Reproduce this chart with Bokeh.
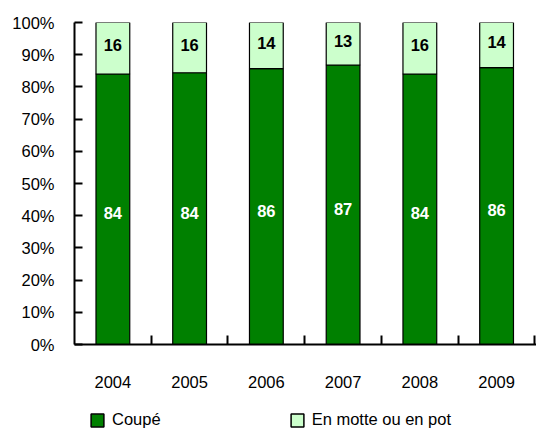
from bokeh.plotting import figure
from bokeh.models import FixedTicker, Legend, LegendItem, ColumnDataSource
from bokeh.layouts import column
from bokeh.core.properties import value
from bokeh.embed import file_html
from bokeh.resources import INLINE

years = ["2004", "2005", "2006", "2007", "2008", "2009"]
coupe = [84.0, 84.4, 85.7, 86.8, 84.0, 86.0]
motte = [16.0, 15.6, 14.3, 13.2, 16.0, 14.0]
coupe_labels = ["84", "84", "86", "87", "84", "86"]
motte_labels = ["16", "16", "14", "13", "16", "14"]
series_names = ["Coupé", "En motte ou en pot"]
y_ticks = [0, 10, 20, 30, 40, 50, 60, 70, 80, 90, 100]

FONT = "Liberation Sans"
DARK = "#008000"
LIGHT = "#CCFFCC"

xs = [i + 0.5 for i in range(len(years))]
top2 = [c + m for c, m in zip(coupe, motte)]
src = ColumnDataSource(dict(
    x=xs, coupe=coupe, motte=motte, b2=coupe[:], t2=top2,
    y1=[c / 2 for c in coupe], y2=[c + m / 2 for c, m in zip(coupe, motte)],
    l1=coupe_labels, l2=motte_labels,
))

p = figure(width=536, height=390, output_backend="svg", toolbar_location=None,
           x_range=(0, 6.02), y_range=(0, 100),
           min_border_left=74, min_border_right=0, min_border_top=22, min_border_bottom=44)
p.outline_line_color = None
p.xgrid.grid_line_color = None
p.ygrid.grid_line_color = None

r1 = p.vbar(x="x", bottom=0, top="coupe", width=0.44, source=src,
            fill_color=DARK, line_color="black", line_width=1.2)
r2 = p.vbar(x="x", bottom="b2", top="t2", width=0.44, source=src,
            fill_color=LIGHT, line_color="black", line_width=1.2)

p.text(x="x", y="y1", text="l1", source=src, text_align="center", text_baseline="middle",
       text_font=value(FONT), text_font_style="bold", text_font_size="16.5px",
       text_color="white", y_offset=4)
p.text(x="x", y="y2", text="l2", source=src, text_align="center", text_baseline="middle",
       text_font=value(FONT), text_font_style="bold", text_font_size="16.5px",
       text_color="black", y_offset=-3)

# axes
p.yaxis.ticker = FixedTicker(ticks=y_ticks)
p.yaxis.major_label_overrides = {t: f"{t}%" for t in y_ticks}
p.yaxis.major_tick_in = 8
p.yaxis.major_tick_out = 0
p.yaxis.minor_tick_line_color = None
p.yaxis.major_label_standoff = 20
p.yaxis.axis_line_width = 2
p.yaxis.major_tick_line_width = 2
p.yaxis.major_label_text_font = FONT
p.yaxis.major_label_text_font_size = "16.5px"
p.yaxis.major_label_text_color = "black"

p.xaxis.ticker = FixedTicker(ticks=xs, minor_ticks=[1, 2, 3, 4, 5, 6])
p.xaxis.major_label_overrides = {x: y for x, y in zip(xs, years)}
p.xaxis.major_tick_line_color = None
p.xaxis.minor_tick_in = 9
p.xaxis.minor_tick_out = 0
p.xaxis.minor_tick_line_width = 2
p.xaxis.axis_line_width = 2
p.xaxis.major_label_standoff = 25
p.xaxis.major_label_text_font = FONT
p.xaxis.major_label_text_font_size = "16.5px"
p.xaxis.major_label_text_color = "black"

# legend in its own strip below the chart (same series, kept out of view)
p2 = figure(width=536, height=42, output_backend="svg", toolbar_location=None,
            x_range=(0, 6.02), y_range=(101, 102), x_axis_location=None, y_axis_location=None,
            min_border_left=74, min_border_right=0, min_border_top=0, min_border_bottom=0)
p2.outline_line_color = None
p2.xgrid.grid_line_color = None
p2.ygrid.grid_line_color = None
g1 = p2.vbar(x="x", bottom=0, top="coupe", width=0, source=src,
             fill_color=DARK, line_color="black", line_width=1.5)
g2 = p2.vbar(x="x", bottom="b2", top="t2", width=0, source=src,
             fill_color=LIGHT, line_color="black", line_width=1.5)
legend = Legend(items=[LegendItem(label=series_names[0], renderers=[g1]),
                       LegendItem(label=series_names[1], renderers=[g2])],
                orientation="horizontal", location=(15, 3),
                glyph_width=16, glyph_height=16, label_height=16,
                label_standoff=7, spacing=128,
                padding=0, margin=0, border_line_color=None, background_fill_alpha=0,
                label_text_font=FONT, label_text_font_size="16.5px", label_text_color="black")
p2.add_layout(legend, "center")

open("out.html", "w").write(file_html(column(p, p2, spacing=0), INLINE))
